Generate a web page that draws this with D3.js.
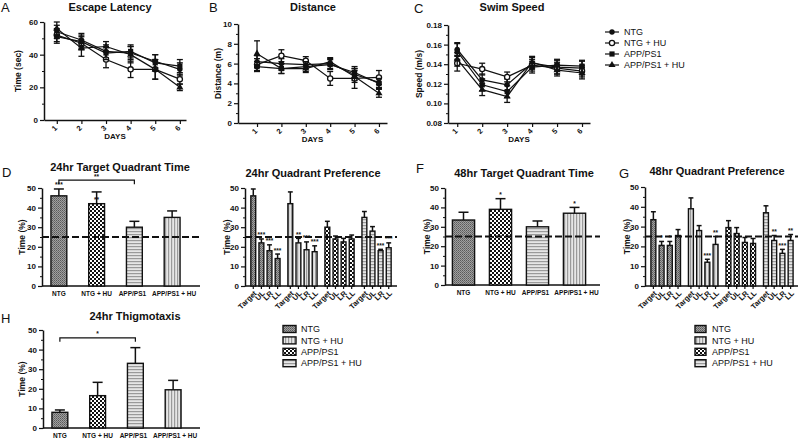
<!DOCTYPE html>
<html><head><meta charset="utf-8">
<script src="https://cdn.jsdelivr.net/npm/d3@7"></script>
<style>body{margin:0;background:#fff}text{font-family:"Liberation Sans",Arial,sans-serif}</style>
</head><body><svg id="c" width="800" height="441"></svg>
<script>
// ---------- DATA ----------
const days=[1,2,3,4,5,6];
const groups=["NTG","NTG + HU","APP/PS1","APP/PS1 + HU"];
const quadrants=["Target","UL","LR","LL"];
// A: Escape latency (sec)
const latNTG=[54,49,42,41,36,31], latNTGse=[4,4,4,4,4,4];
const latNTGHU=[52,47,37,31,31,25], latNTGHUse=[4,4,5,5,6,3];
const latAPP=[51,48,41,42,35,33], latAPPse=[4,4,4,4,5,4];
const latAPPHU=[56,44,45,40,31,20], latAPPHUse=[4,5,3,5,6,2];
// B: Distance (m)
const distNTG=[6.2,6.0,5.9,6.0,4.9,4.1], distNTGse=[0.6,0.5,0.4,0.5,0.6,0.5];
const distNTGHU=[5.9,6.8,6.3,4.5,4.5,4.6], distNTGHUse=[0.6,0.6,0.4,0.7,1.0,0.7];
const distAPP=[5.7,5.5,5.7,5.9,5.1,4.0], distAPPse=[0.5,0.5,0.5,0.5,0.6,0.5];
const distAPPHU=[7.0,5.5,5.5,6.2,4.7,3.0], distAPPHUse=[1.3,0.5,0.4,0.4,0.6,0.4];
// C: Swim speed (m/s)
const spdNTG=[0.155,0.124,0.119,0.141,0.137,0.136], spdNTGse=[0.007,0.006,0.006,0.006,0.007,0.007];
const spdNTGHU=[0.141,0.135,0.127,0.139,0.136,0.133], spdNTGHUse=[0.008,0.006,0.005,0.006,0.006,0.006];
const spdAPP=[0.153,0.119,0.112,0.137,0.139,0.138], spdAPPse=[0.008,0.006,0.006,0.006,0.006,0.006];
const spdAPPHU=[0.145,0.114,0.107,0.142,0.134,0.131], spdAPPHUse=[0.007,0.006,0.006,0.006,0.006,0.006];
// D: 24hr target quadrant time (%)
const tq24=[46,42,30,35], tq24se=[3.5,6,3,3.3], tq24stars=["***","**","",""];
// E: 24hr quadrant preference (%)
const p24NTG=[46,22,18,14], p24NTGse=[3.5,2,3,2.3], p24NTGstars=["","***","***","***"];
const p24NTGHU=[42,22,18.5,17.5], p24NTGHUse=[6,2.3,4,3], p24NTGHUstars=["","**","***","***"];
const p24APP=[30,24,22.5,24], p24APPse=[3,1.5,1.8,2], p24APPstars=["","","",""];
const p24APPHU=[35,28,18,19.5], p24APPHUse=[3,2.3,0.7,2.5], p24APPHUstars=["","","***","***"];
// F: 48hr target quadrant time (%)
const tq48=[33.5,39,30,37], tq48se=[4,5.5,3,3], tq48stars=["","*","","*"];
// G: 48hr quadrant preference (%)
const p48NTG=[33.5,20.5,20.5,25.5], p48NTGse=[4,2,2,3], p48NTGstars=["","*","*",""];
const p48NTGHU=[39,28,12,21], p48NTGHUse=[5.5,2.5,1.5,4], p48NTGHUstars=["","","***","**"];
const p48APP=[29.5,26.5,22,21.5], p48APPse=[3.5,3,2.5,2.5], p48APPstars=["","","",""];
const p48APPHU=[37,23,16.5,23], p48APPHUse=[3.5,2.5,2,3], p48APPHUstars=["","**","***","**"];
// H: 24hr thigmotaxis (%)
const thig=[8,16.5,33,19.5], thigse=[1.2,6.8,8,4.8];
const yTicks50=[0,10,20,30,40,50];

// ---------- DRAWING ----------
const svg=d3.select("#c");
const defs=svg.append("defs");
function pat(id,w,h,build){const p=defs.append("pattern").attr("id",id).attr("patternUnits","userSpaceOnUse").attr("width",w).attr("height",h);build(p);}
pat("pDark",2,2,p=>{p.append("rect").attr("width",2).attr("height",2).attr("fill","#a0a0a0");p.append("rect").attr("width",1).attr("height",1).attr("fill","#5a5a5a");p.append("rect").attr("x",1).attr("y",1).attr("width",1).attr("height",1).attr("fill","#707070");});
pat("pCheck",4,4,p=>{p.append("rect").attr("width",4).attr("height",4).attr("fill","#fff");p.append("rect").attr("width",2).attr("height",2).attr("fill","#111");p.append("rect").attr("x",2).attr("y",2).attr("width",2).attr("height",2).attr("fill","#111");});
pat("pH",3,3,p=>{p.append("rect").attr("width",3).attr("height",3).attr("fill","#e6e6e6");p.append("rect").attr("width",3).attr("height",1.2).attr("fill","#9a9a9a");});
pat("pV",3,3,p=>{p.append("rect").attr("width",3).attr("height",3).attr("fill","#e6e6e6");p.append("rect").attr("width",1.2).attr("height",3).attr("fill","#9a9a9a");});

function txt(x,y,s,opt={}){return svg.append("text").attr("x",x).attr("y",y).text(s)
  .attr("font-size",opt.size||11).attr("font-weight",opt.bold===false?"normal":"bold")
  .attr("text-anchor",opt.anchor||"middle").attr("fill","#111");}
function rotLabel(x,y,s){svg.append("text").attr("transform",`translate(${x},${y}) rotate(-90)`)
  .attr("text-anchor","middle").attr("font-size",8.5).attr("font-weight","bold").attr("fill","#111").text(s);}
function styleAxis(g){g.select(".domain").attr("stroke","#111").attr("stroke-width",1.5);
  g.selectAll(".tick line").attr("stroke","#111").attr("stroke-width",1.2);
  g.selectAll("text").attr("font-size",8).attr("font-weight","bold").attr("fill","#111").attr("font-family","Liberation Sans, Arial");}

function yAxis(y,x0,ticks,fmt,minor){
  const g=svg.append("g").attr("transform",`translate(${x0},0)`).call(d3.axisLeft(y).tickValues(ticks).tickFormat(fmt).tickSize(4).tickSizeOuter(0).tickPadding(2));
  styleAxis(g);
  if(minor){const m=svg.append("g").attr("transform",`translate(${x0},0)`).call(d3.axisLeft(y).tickValues(minor).tickFormat("").tickSize(2).tickSizeOuter(0));
    m.select(".domain").remove();m.selectAll(".tick line").attr("stroke","#111");}
}

function marker(g,type,x,y){
  if(type===0) g.append("circle").attr("cx",x).attr("cy",y).attr("r",2.7).attr("fill","#111");
  else if(type===1) g.append("circle").attr("cx",x).attr("cy",y).attr("r",2.6).attr("fill","#fff").attr("stroke","#111").attr("stroke-width",1.3);
  else if(type===2) g.append("rect").attr("x",x-2.6).attr("y",y-2.6).attr("width",5.2).attr("height",5.2).attr("fill","#111");
  else g.append("path").attr("d",d3.symbol(d3.symbolTriangle,22)()).attr("transform",`translate(${x},${y})`).attr("fill","#111");
}

function linePanel(o){
  const x=d3.scaleLinear().domain(o.xd).range([o.l,o.r]);
  const y=d3.scaleLinear().domain(o.yd).range([o.b,o.t]);
  const ax=svg.append("g").attr("transform",`translate(0,${o.b})`)
    .call(d3.axisBottom(x).tickValues(days).tickFormat(d3.format("d")).tickSize(4).tickSizeOuter(0));
  styleAxis(ax);
  ax.selectAll("text").attr("y",0).attr("dy",0).attr("transform","translate(-1,10) rotate(-45)").attr("text-anchor","middle").attr("font-size",7.5);
  yAxis(y,o.l,o.ticks,o.fmt,o.minor);
  const g=svg.append("g");
  o.series.forEach((s,i)=>{
    g.append("path").datum(s.v).attr("fill","none").attr("stroke","#111").attr("stroke-width",1.2)
      .attr("d",d3.line().x((d,j)=>x(days[j])).y(d=>y(d)));
  });
  o.series.forEach((s,i)=>{
    s.v.forEach((v,j)=>{
      const cx=x(days[j]);
      g.append("line").attr("x1",cx).attr("x2",cx).attr("y1",y(v-s.e[j])).attr("y2",y(v+s.e[j])).attr("stroke","#111").attr("stroke-width",1.3);
      [v-s.e[j],v+s.e[j]].forEach(t=>g.append("line").attr("x1",cx-3).attr("x2",cx+3).attr("y1",y(t)).attr("y2",y(t)).attr("stroke","#111").attr("stroke-width",1.3));
      marker(g,i,cx,y(v));
    });
  });
  txt((o.l+o.r)/2,o.b+19,"DAYS",{size:8});
  txt(o.tx,11,o.title,{size:11});
  rotLabel(o.yl,(o.t+o.b)/2,o.ylabel);
}

linePanel({l:44,r:186,t:22,b:120,xd:[0.48,6.25],yd:[0,60],ticks:[0,20,40,60],fmt:d3.format("d"),minor:[10,30,50],
  series:[{v:latNTG,e:latNTGse},{v:latNTGHU,e:latNTGHUse},{v:latAPP,e:latAPPse},{v:latAPPHU,e:latAPPHUse}],
  title:"Escape Latency",tx:110,ylabel:"Time (sec)",yl:21});
linePanel({l:238,r:387,t:24,b:123,xd:[0.22,6.33],yd:[0,10],ticks:[0,2,4,6,8,10],fmt:d3.format("d"),minor:[1,3,5,7,9],
  series:[{v:distNTG,e:distNTGse},{v:distNTGHU,e:distNTGHUse},{v:distAPP,e:distAPPse},{v:distAPPHU,e:distAPPHUse}],
  title:"Distance",tx:313,ylabel:"Distance (m)",yl:221});
linePanel({l:448,r:590,t:25,b:123,xd:[0.63,6.32],yd:[0.08,0.18],ticks:[0.08,0.10,0.12,0.14,0.16,0.18],fmt:d3.format(".2f"),minor:[0.09,0.11,0.13,0.15,0.17],
  series:[{v:spdNTG,e:spdNTGse},{v:spdNTGHU,e:spdNTGHUse},{v:spdAPP,e:spdAPPse},{v:spdAPPHU,e:spdAPPHUse}],
  title:"Swim Speed",tx:512,ylabel:"Speed (m/s)",yl:422});

// top-right legend
groups.forEach((gname,i)=>{
  const yy=32+i*11;
  svg.append("line").attr("x1",605).attr("x2",619).attr("y1",yy).attr("y2",yy).attr("stroke","#111").attr("stroke-width",1.2);
  marker(svg,i,612,yy);
  txt(624,yy+3.2,gname,{size:9,bold:false,anchor:"start"});
});

function errBar(g,cx,y0,y1,w){
  g.append("line").attr("x1",cx).attr("x2",cx).attr("y1",y0).attr("y2",y1).attr("stroke","#111").attr("stroke-width",1.5);
  g.append("line").attr("x1",cx-w/2).attr("x2",cx+w/2).attr("y1",y1).attr("y2",y1).attr("stroke","#111").attr("stroke-width",1.5);
}
function barsBase(o,y){
  yAxis(y,o.l,yTicks50,d3.format("d"),[5,15,25,35,45]);
  svg.append("line").attr("x1",o.l).attr("x2",o.r).attr("y1",y(0)).attr("y2",y(0)).attr("stroke","#111").attr("stroke-width",1.5);
}
function drawBar(g,x0,w,v,e,y,fill,star,starOnBar){
  g.append("rect").attr("x",x0).attr("y",y(v)).attr("width",w).attr("height",y(0)-y(v)).attr("fill",`url(#${fill})`).attr("stroke","#111").attr("stroke-width",1.4);
  errBar(g,x0+w/2,y(v),y(v+e),Math.min(w,10));
  if(star) txt(x0+w/2,(starOnBar?y(v):y(v+e))-1.5,star,{size:6.5});
}
function groupPanel(o){
  const y=d3.scaleLinear().domain([0,50]).range([o.b,o.t]);
  const x=d3.scaleBand().domain(groups).range(o.xr).paddingInner(o.pi).paddingOuter(o.pi/2);
  barsBase(o,y);
  const g=svg.append("g");
  groups.forEach((gn,i)=>{
    drawBar(g,x(gn),x.bandwidth(),o.v[i],o.e[i],y,o.fills[i],o.stars?o.stars[i]:"",o.starOnBar&&o.starOnBar[i]);
    txt(x(gn)+x.bandwidth()/2+(o.lx?o.lx[i]:0),o.b+10,gn,{size:6.5});
  });
  if(o.dash) svg.append("line").attr("x1",o.l).attr("x2",o.r).attr("y1",y(25)).attr("y2",y(25)).attr("stroke","#111").attr("stroke-width",2).attr("stroke-dasharray","7,3");
  if(o.bracket){
    const [a,b,lv,s]=o.bracket, xa=x(groups[a])+x.bandwidth()/2, xb=x(groups[b])+x.bandwidth()/2, yy=y(lv);
    svg.append("path").attr("d",`M${xa},${yy+4}V${yy}H${xb}V${yy+4}`).attr("fill","none").attr("stroke","#111").attr("stroke-width",1.2);
    txt((xa+xb)/2,yy-1.5,s,{size:6.5});
  }
  txt(o.tx,o.ty,o.title,{size:11});
  rotLabel(o.yl,(o.t+o.b)/2,"Time (%)");
}
function quadPanel(o){
  const y=d3.scaleLinear().domain([0,50]).range([o.b,o.t]);
  const xo=d3.scaleBand().domain(groups).range(o.xr).paddingInner(0.19).paddingOuter(0.12);
  const xi=d3.scaleBand().domain(quadrants).range([0,xo.bandwidth()]).paddingInner(0.4).paddingOuter(0.05);
  barsBase(o,y);
  const g=svg.append("g");
  groups.forEach((gn,i)=>{
    quadrants.forEach((q,j)=>{
      const bx=xo(gn)+xi(q);
      drawBar(g,bx,xi.bandwidth(),o.v[i][j],o.e[i][j],y,o.fills[i],o.stars[i][j],false);
      const cx=bx+xi.bandwidth()/2;
      svg.append("line").attr("x1",cx).attr("x2",cx).attr("y1",o.b).attr("y2",o.b+3).attr("stroke","#111").attr("stroke-width",1.2);
      svg.append("text").attr("transform",`translate(${cx+2},${o.b+6}) rotate(-45)`).attr("text-anchor","end").attr("dy","0.35em")
        .attr("font-size",7.5).attr("font-weight","bold").attr("fill","#111").text(q);
    });
  });
  svg.append("line").attr("x1",o.l).attr("x2",o.r).attr("y1",y(25)).attr("y2",y(25)).attr("stroke","#111").attr("stroke-width",2).attr("stroke-dasharray","7,3");
  txt(o.tx,o.ty,o.title,{size:11});
  rotLabel(o.yl,(o.t+o.b)/2,"Time (%)");
}

groupPanel({l:42,r:200,t:188,b:286,xr:[40,191],pi:0.58,v:tq24,e:tq24se,fills:["pDark","pCheck","pH","pV"],
  stars:tq24stars,starOnBar:[false,true,false,false],dash:true,bracket:[0,2,54,"**"],lx:[0,0,-2,2],
  title:"24hr Target Quadrant Time",tx:120,ty:171,yl:25});
quadPanel({l:245,r:397,t:188,b:286,xr:[246,396],
  v:[p24NTG,p24NTGHU,p24APP,p24APPHU],e:[p24NTGse,p24NTGHUse,p24APPse,p24APPHUse],
  stars:[p24NTGstars,p24NTGHUstars,p24APPstars,p24APPHUstars],fills:["pDark","pV","pCheck","pH"],
  title:"24hr Quadrant Preference",tx:313,ty:177,yl:230});
groupPanel({l:445,r:600,t:188,b:285,xr:[445,593],pi:0.4,v:tq48,e:tq48se,fills:["pDark","pCheck","pH","pV"],
  stars:tq48stars,dash:true,lx:[0,0,-2,2],title:"48hr Target Quadrant Time",tx:524,ty:177,yl:430});
quadPanel({l:645,r:798,t:187,b:286,xr:[646,798],
  v:[p48NTG,p48NTGHU,p48APP,p48APPHU],e:[p48NTGse,p48NTGHUse,p48APPse,p48APPHUse],
  stars:[p48NTGstars,p48NTGHUstars,p48APPstars,p48APPHUstars],fills:["pDark","pV","pCheck","pH"],
  title:"48hr Quadrant Preference",tx:717,ty:175,yl:630});
groupPanel({l:43,r:200,t:330,b:428,xr:[41,192],pi:0.58,v:thig,e:thigse,fills:["pDark","pCheck","pH","pV"],
  dash:false,bracket:[0,2,46,"*"],lx:[0,0,-2,2],title:"24hr Thigmotaxis",tx:135,ty:320,yl:25});

// panel letters
[["A",1,12],["B",209,12],["C",414,13],["D",2,177],["F",416,173],["G",619,178],["H",1,323]]
  .forEach(([s,x,y])=>txt(x,y,s,{size:13,bold:false,anchor:"start"}));

// bottom legends
function barLegend(x,tx,w){
  const fills=["pDark","pV","pCheck","pH"];
  groups.forEach((gn,i)=>{
    const yy=329+i*11.4;
    svg.append("rect").attr("x",x).attr("y",yy-3.5).attr("width",w).attr("height",7).attr("fill",`url(#${fills[i]})`).attr("stroke","#111").attr("stroke-width",1.4);
    txt(tx,yy+3.2,gn,{size:9,bold:false,anchor:"start"});
  });
}
barLegend(283,301,13);
barLegend(695,712,11);
</script></body></html>
